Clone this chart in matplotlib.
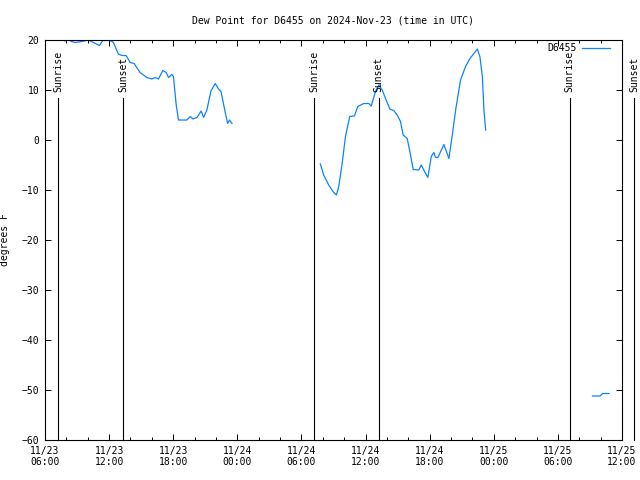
import numpy as np
import matplotlib
matplotlib.use("Agg")
import matplotlib.pyplot as plt
import matplotlib.dates as mdates
from datetime import datetime, timedelta

# Data: hours since 2024-11-23 06:00 UTC, dew point (F); NaN marks gaps
hours = [1.87, 2.18, 2.50, 2.81, 3.44, 4.06, 4.53, 5.09, 5.41, 6.09, 6.40, 6.87,
         7.19, 7.59, 7.97, 8.34, 8.90, 9.53, 10.00, 10.31, 10.62, 11.03, 11.34,
         11.56, 11.87, 12.02, 12.28, 12.49, 13.28, 13.59, 13.84, 14.22, 14.62,
         14.84, 15.15, 15.53, 15.93, 16.24, 16.47, 16.87, 17.09, 17.27, 17.50,
         21.0,
         25.77, 26.08, 26.55, 27.02, 27.27, 27.49, 27.81, 28.12, 28.52, 28.96,
         29.27, 29.83, 30.30, 30.53, 30.93, 31.24, 31.56, 31.87, 32.27, 32.64,
         32.96, 33.27, 33.52, 33.90, 34.21, 34.46, 34.99, 35.21, 35.52, 35.83,
         36.15, 36.39, 36.55, 36.77, 37.33, 37.80, 38.12, 38.43, 38.89, 39.36,
         39.77, 40.14, 40.46, 40.70, 40.93, 41.08, 41.24,
         46.0,
         51.24, 51.95, 52.18, 52.79]
dewpoint = [19.8, 20.0, 19.7, 19.5, 19.7, 20.0, 19.5, 18.9, 19.9, 19.9, 19.5, 17.2,
            16.9, 16.9, 15.5, 15.3, 13.5, 12.5, 12.2, 12.5, 12.2, 13.9, 13.5,
            12.5, 13.1, 12.7, 7.0, 4.0, 4.0, 4.7, 4.2, 4.5, 5.8,
            4.5, 6.0, 9.8, 11.3, 10.2, 9.7, 5.5, 3.3, 4.0, 3.3,
            np.nan,
            -4.8, -7.0, -9.0, -10.5, -11.0, -9.3, -4.7, 0.7, 4.7, 4.8,
            6.7, 7.3, 7.3, 6.8, 9.7, 11.0, 10.0, 8.3, 6.2, 5.9,
            5.0, 3.7, 1.0, 0.3, -3.0, -5.9, -6.0, -5.0, -6.3, -7.5,
            -3.3, -2.5, -3.5, -3.5, -0.9, -3.7, 1.0, 6.0, 12.0, 14.7,
            16.3, 17.3, 18.2, 16.7, 12.7, 6.0, 2.0,
            np.nan,
            -51.2, -51.2, -50.7, -50.7]

sun_times = ["2024-11-23 07:13", "2024-11-23 13:19", "2024-11-24 07:13",
             "2024-11-24 13:13", "2024-11-25 07:07", "2024-11-25 13:07"]
sun_labels = ["Sunrise", "Sunset", "Sunrise", "Sunset", "Sunrise", "Sunset"]

base = datetime(2024, 11, 23, 6, 0)
times = [base + timedelta(hours=h) for h in hours]

plt.rcParams['font.family'] = ['DejaVu Sans Mono']
plt.rcParams['font.size'] = 7

fig = plt.figure(figsize=(6.4, 4.8), dpi=100)
ax = fig.add_axes([45/640, 40/480, 577/640, 400/480])

ax.plot(times, dewpoint, color='#0a84ff', lw=0.9, label='D6455')

ax.set_xlim(base, base + timedelta(hours=54))
ax.set_ylim(-60, 20)
ax.set_yticks(np.arange(-60, 21, 10))

ax.xaxis.set_major_locator(mdates.HourLocator(byhour=[0, 6, 12, 18]))
ax.xaxis.set_minor_locator(mdates.HourLocator(byhour=range(0, 24, 2)))
ax.xaxis.set_major_formatter(mdates.DateFormatter('%m/%d\n%H:%M'))

ax.tick_params(axis='both', which='major', direction='in', length=4.5, width=0.7,
               top=True, right=True, pad=4)
ax.tick_params(axis='both', which='minor', direction='in', length=2.5, width=0.7,
               top=True, right=True)
ax.tick_params(axis='y', which='minor', left=False, right=False)
for s in ax.spines.values():
    s.set_linewidth(0.8)

ax.set_ylabel('degrees F')
ax.yaxis.set_label_coords(-35/577, 0.5)
ax.set_title('Dew Point for D6455 on 2024-Nov-23 (time in UTC)', pad=12, fontsize=7)

# sunrise / sunset markers
trans = ax.get_xaxis_transform()
for t, lab in zip(sun_times, sun_labels):
    dt = datetime.strptime(t, "%Y-%m-%d %H:%M")
    xd = mdates.date2num(dt)
    ax.plot([xd, xd], [0, 342/400], transform=trans, color='black', lw=0.8,
            clip_on=False)
    ax.text(xd, 348/400, lab, transform=trans, rotation=90, ha='center',
            va='bottom', clip_on=False)

# legend
ax.text(532/577, 392/400, 'D6455', transform=ax.transAxes, ha='right', va='center')
ax.plot([537/577, 565/577], [392/400, 392/400], transform=ax.transAxes,
        color='#0a84ff', lw=0.9)

fig.savefig('out.png', dpi=100)
